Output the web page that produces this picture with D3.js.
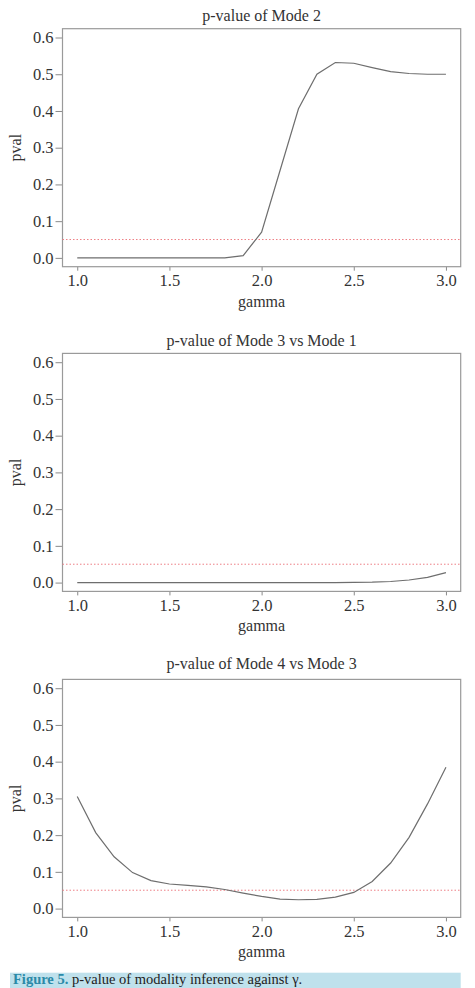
<!DOCTYPE html>
<html>
<head>
<meta charset="utf-8">
<script src="https://cdn.jsdelivr.net/npm/d3@7"></script>
<style>
  body { margin: 0; background: #fff; }
  svg { display: block; }
</style>
</head>
<body>
<div class="container"></div>
<script>
var gamma = [1.0, 1.1, 1.2, 1.3, 1.4, 1.5, 1.6, 1.7, 1.8, 1.9, 2.0,
             2.1, 2.2, 2.3, 2.4, 2.5, 2.6, 2.7, 2.8, 2.9, 3.0];

var pvalMode2 = [0, 0, 0, 0, 0, 0, 0, 0, 0, 0.006, 0.070,
                 0.238, 0.406, 0.500, 0.532, 0.530, 0.518, 0.507, 0.502, 0.500, 0.500];

var pvalMode3vs1 = [0, 0, 0, 0, 0, 0, 0, 0, 0, 0, 0,
                    0, 0, 0, 0, 0.0005, 0.001, 0.003, 0.007, 0.014, 0.027];

var pvalMode4vs3 = [0.305, 0.207, 0.141, 0.098, 0.076, 0.067, 0.063, 0.059, 0.052, 0.042, 0.033,
                    0.026, 0.024, 0.025, 0.031, 0.044, 0.074, 0.124, 0.194, 0.285, 0.385];

var titles = ['p-value of Mode 2', 'p-value of Mode 3 vs Mode 1', 'p-value of Mode 4 vs Mode 3'];
var series = [pvalMode2, pvalMode3vs1, pvalMode4vs3];

var xTicks = [1.0, 1.5, 2.0, 2.5, 3.0];
var yTicks = [0.0, 0.1, 0.2, 0.3, 0.4, 0.5, 0.6];
var cutoff = 0.05;

var w = 475;
var h = 988;
var panelTops = [0, 324.7, 650.7];
var titleGaps = [13.7, 13.3, 16];
var boxLeft = 62.5;
var boxRight = 460.7;
var boxTopPad = 28.7;
var boxHeight = 238;
var font = '"Liberation Serif", "Times New Roman", serif';
var textColor = '#333';

var svg = d3.select('.container')
  .append('svg')
  .attr('width', w)
  .attr('height', h);

var xScale = d3.scaleLinear()
  .domain([0.92, 3.08])
  .range([boxLeft, boxRight]);

series.forEach(function(values, p) {

  /* ===== PANEL SETUP ===== */

  var top = panelTops[p] + boxTopPad;
  var bottom = top + boxHeight;

  var yScale = d3.scaleLinear()
    .domain([-0.024, 0.624])
    .range([bottom, top]);

  var g = svg.append('g');

  /* ===== AXES ===== */

  var xAxis = d3.axisBottom()
    .scale(xScale)
    .tickValues(xTicks)
    .tickSize(4)
    .tickPadding(4)
    .tickFormat(d3.format('.1f'));

  var yAxis = d3.axisLeft()
    .scale(yScale)
    .tickValues(yTicks)
    .tickSize(7)
    .tickPadding(2)
    .tickFormat(d3.format('.1f'));

  var xg = g.append('g')
    .attr('transform', 'translate(0,' + bottom + ')')
    .call(xAxis);

  var yg = g.append('g')
    .attr('transform', 'translate(' + boxLeft + ',0)')
    .call(yAxis);

  [xg, yg].forEach(function(a) {
    a.select('.domain').remove();
    a.selectAll('line').attr('stroke', '#8a8a8a');
    a.selectAll('text')
      .style('font-family', font)
      .style('font-size', '16.5px')
      .attr('fill', textColor);
  });

  /* ===== BOX ===== */

  g.append('rect')
    .attr('x', boxLeft)
    .attr('y', top)
    .attr('width', boxRight - boxLeft)
    .attr('height', boxHeight)
    .attr('fill', 'none')
    .attr('stroke', '#9a9a9a')
    .attr('stroke-width', 1.2);

  /* ===== CUTOFF LINE ===== */

  g.append('line')
    .attr('x1', boxLeft)
    .attr('x2', boxRight)
    .attr('y1', yScale(cutoff))
    .attr('y2', yScale(cutoff))
    .attr('stroke', '#ee7f86')
    .attr('stroke-width', 1)
    .attr('stroke-dasharray', '1.5,2');

  /* ===== CURVE ===== */

  var line = d3.line()
    .x(function(d, i) { return xScale(gamma[i]); })
    .y(function(d) { return yScale(d); });

  g.append('path')
    .datum(values)
    .attr('d', line)
    .attr('fill', 'none')
    .attr('stroke', '#6e6e6e')
    .attr('stroke-width', 1.2);

  /* ===== TEXT ===== */

  g.append('text')
    .text(titles[p])
    .attr('x', xScale(2.0))
    .attr('y', top - titleGaps[p])
    .attr('dy', '0.35em')
    .attr('text-anchor', 'middle')
    .style('font-family', font)
    .style('font-size', '16px')
    .attr('fill', textColor);

  g.append('text')
    .text('gamma')
    .attr('x', xScale(2.0))
    .attr('y', bottom + 35)
    .attr('dy', '0.3em')
    .attr('text-anchor', 'middle')
    .style('font-family', font)
    .style('font-size', '16px')
    .attr('fill', textColor);

  g.append('text')
    .text('pval')
    .attr('transform', 'translate(16,' + yScale(0.3) + ') rotate(-90)')
    .attr('dy', '0.3em')
    .attr('text-anchor', 'middle')
    .style('font-family', font)
    .style('font-size', '16px')
    .attr('fill', textColor);
});

/* ===== CAPTION ===== */

svg.append('rect')
  .attr('x', 10)
  .attr('y', 972.7)
  .attr('width', 450.7)
  .attr('height', 20)
  .attr('fill', '#bfe1ec');

var caption = svg.append('text')
  .attr('x', 13)
  .attr('y', 984.3)
  .style('font-family', font)
  .style('font-size', '14.5px');

caption.append('tspan')
  .text('Figure 5.')
  .attr('font-weight', 'bold')
  .attr('fill', '#2a8aa8');

caption.append('tspan')
  .text(' p-value of modality inference against \u03b3.')
  .attr('fill', '#222');
</script>
</body>
</html>
